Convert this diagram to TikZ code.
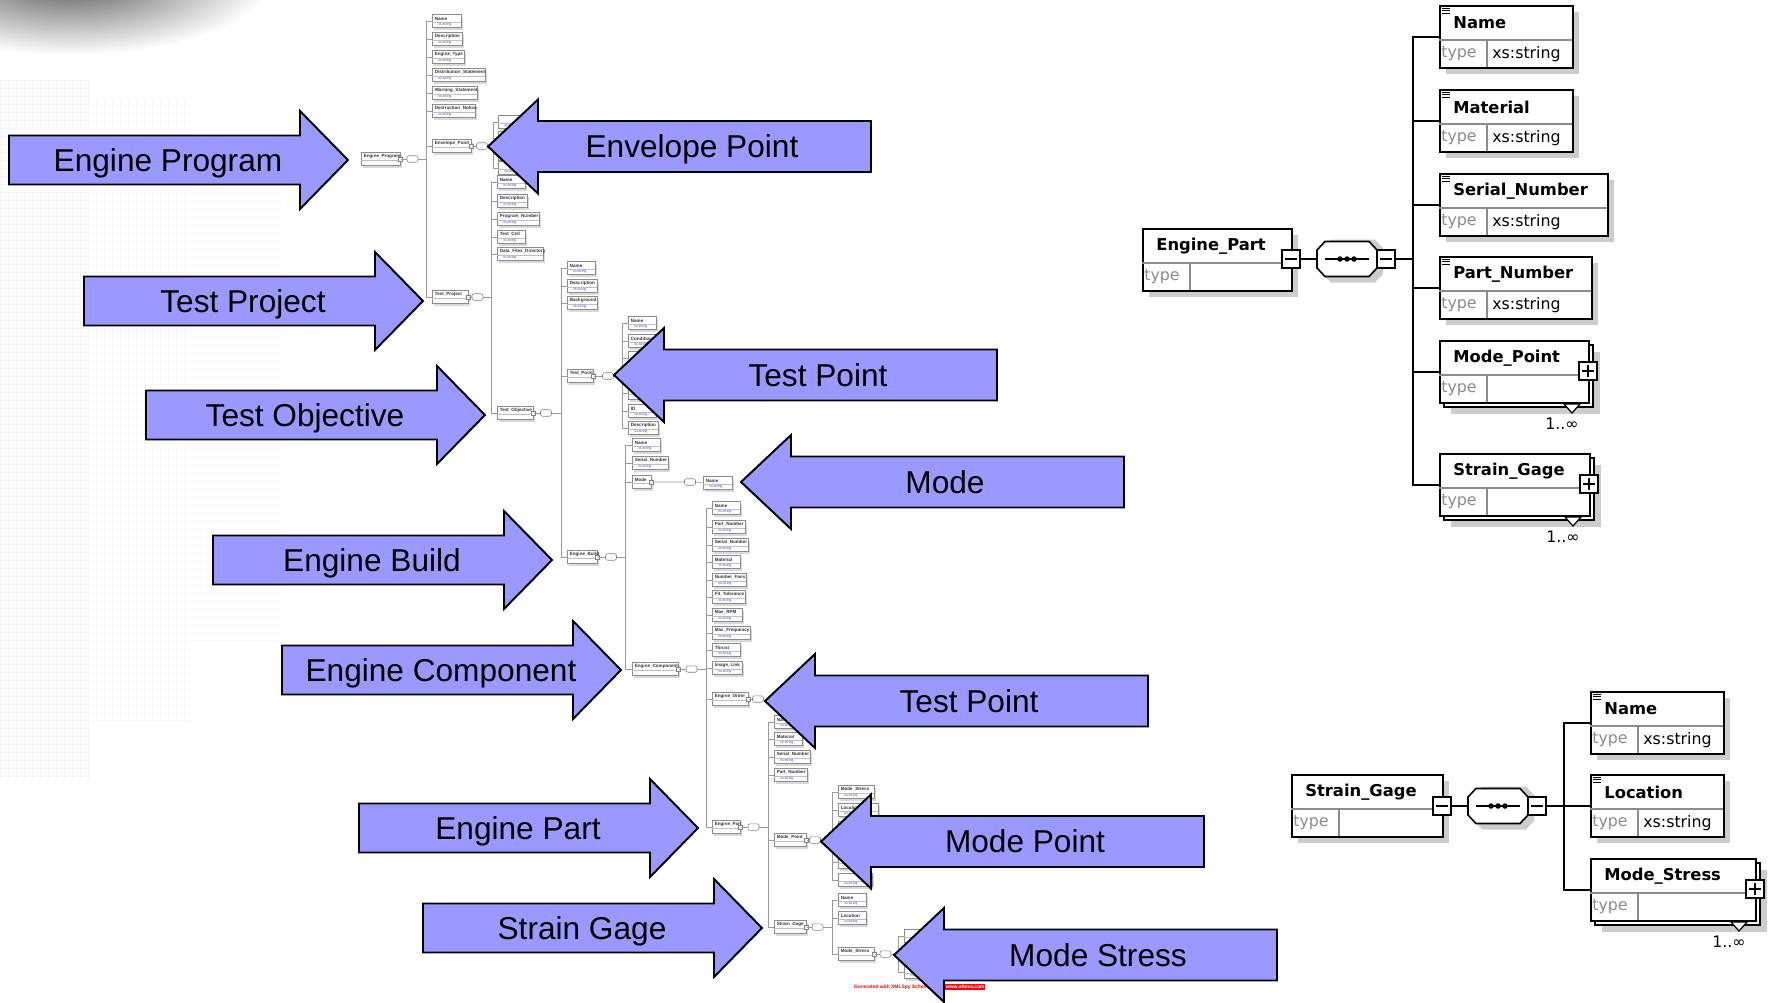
\documentclass[tikz,border=0pt]{standalone}
\usepackage{fontspec}
\setmainfont{Liberation Sans}
\newfontfamily\schemafont{DejaVu Sans}
\usepackage{tikz}

\definecolor{arrowblue}{RGB}{153,153,255}
\definecolor{shadowgray}{RGB}{204,204,204}
\definecolor{linkblue}{RGB}{70,70,225}

\tikzset{
  blockarrow/.style={fill=arrowblue, draw=black, line width=1.1pt, line join=miter},
  arrowtext/.style={font=\fontsize{18}{20}\selectfont, anchor=base, inner sep=0},
  bigbox/.style={draw=black, line width=0.9pt, fill=white, minimum height=1.24cm, inner sep=0, anchor=north west},
  rowline/.style={black!45, line width=0.6pt},
  btitle/.style={font=\schemafont\bfseries\fontsize{9.3}{11}\selectfont, inner sep=0, anchor=west},
  typelbl/.style={font=\schemafont\fontsize{9}{11}\selectfont, text=black!45, inner sep=0, anchor=west},
  typeval/.style={font=\schemafont\fontsize{9}{11}\selectfont, inner sep=0, anchor=west},
  conn/.style={line width=0.9pt},
  pmbox/.style={draw, line width=0.8pt, fill=white, minimum size=0.36cm, inner sep=0},
  mbox/.style={draw=black!45, line width=0.3pt, fill=white, minimum height=0.26cm, inner sep=0, anchor=west},
  mlbl/.style={font=\bfseries\fontsize{2.6}{3}\selectfont, inner sep=0, anchor=west, text=black!80},
  mtype/.style={font=\fontsize{2}{2.4}\selectfont, inner sep=0, anchor=west, text=linkblue},
  mline/.style={black!40, line width=0.35pt},
  mseq/.style={draw=black!50, line width=0.3pt, fill=white, rounded corners=1.2pt, minimum width=0.22cm, minimum height=0.13cm, inner sep=0},
  gentext/.style={font=\bfseries\fontsize{2.8}{3}\selectfont, text=red, inner sep=0.5pt},
}

% block arrows: name, left x (or tip x), centre y, text
\newcommand\rarrow[4]{%
  \draw[blockarrow] (#2,#3-24.5) -- (#2+291,#3-24.5) -- (#2+291,#3-49) -- (#2+339,#3)
    -- (#2+291,#3+49) -- (#2+291,#3+24.5) -- (#2,#3+24.5) -- cycle;
  \node[arrowtext] (#1) at (#2+159,#3+11) {#4};
}
\newcommand\larrow[4]{%
  \draw[blockarrow] (#2,#3) -- (#2+50,#3-47) -- (#2+50,#3-25.5) -- (#2+383,#3-25.5)
    -- (#2+383,#3+25.5) -- (#2+50,#3+25.5) -- (#2+50,#3+47) -- cycle;
  \node[arrowtext] (#1) at (#2+204,#3+11) {#4};
}

% large schema elements: name, x, top, width, title
\newcommand\selem[5]{%
  \fill[shadowgray] (#2+7,#3+7) rectangle (#2+#4+7,#3+69);
  \node[bigbox, minimum width=#4*0.02cm] (#1) at (#2,#3) {};
  \draw[rowline] (#2,#3+35) -- (#2+#4,#3+35) (#2+48,#3+35) -- (#2+48,#3+62);
  \draw[line width=0.5pt] (#2+3,#3+3) -- (#2+11,#3+3) (#2+3,#3+5.5) -- (#2+11,#3+5.5) (#2+3,#3+8) -- (#2+11,#3+8);
  \node[btitle] (#1-t) at (#2+14,#3+18) {#5};
  \node[typelbl] (#1-k) at (#2+2,#3+49) {type};
  \node[typeval] (#1-v) at (#2+53,#3+49) {xs:string};
}
\newcommand\celem[5]{%
  \fill[shadowgray] (#2+7,#3+7) rectangle (#2+#4+7,#3+69);
  \node[bigbox, minimum width=#4*0.02cm] (#1) at (#2,#3) {};
  \draw[rowline] (#2,#3+35) -- (#2+#4,#3+35) (#2+48,#3+35) -- (#2+48,#3+62);
  \node[btitle] (#1-t) at (#2+14,#3+18) {#5};
  \node[typelbl] (#1-k) at (#2+2,#3+49) {type};
}
\newcommand\melem[5]{%
  \fill[shadowgray] (#2+12,#3+12) rectangle (#2+#4+12,#3+74);
  \draw[line width=0.9pt, fill=white] (#2+5,#3+5) rectangle (#2+#4+5,#3+67);
  \draw[line width=0.7pt, fill=white] (#2+#4-24,#3+64) -- (#2+#4-8,#3+64) -- (#2+#4-16,#3+73) -- cycle;
  \node[bigbox, minimum width=#4*0.02cm] (#1) at (#2,#3) {};
  \draw[rowline] (#2,#3+35) -- (#2+#4,#3+35) (#2+48,#3+35) -- (#2+48,#3+62);
  \node[btitle] (#1-t) at (#2+14,#3+18) {#5};
  \node[typelbl] (#1-k) at (#2+2,#3+49) {type};
  \node[pmbox] (#1-p) at (#2+#4,#3+31) {};
  \draw[line width=0.8pt] (#1-p.center) ++(-6,0) -- ++(12,0) (#1-p.center) ++(0,-6) -- ++(0,12);
  \node[typeval] (#1-m) at (#2+#4-43,#3+84) {1..∞};
}
\newcommand\minusbox[3]{%
  \node[pmbox] (#1) at (#2,#3) {};
  \draw[line width=0.8pt] (#1.center) ++(-6,0) -- ++(12,0);
}
\newcommand\bigseq[3]{%
  \fill[shadowgray] (#2-24,#3-11) -- (#2-16,#3-19.5) -- (#2+28,#3-19.5) -- (#2+36,#3-11) -- (#2+36,#3+15) -- (#2+28,#3+23.5) -- (#2-16,#3+23.5) -- (#2-24,#3+15) -- cycle;
  \node[minimum width=1.2cm, minimum height=0.7cm, inner sep=0] (#1) at (#2,#3) {};
  \draw[line width=0.9pt, fill=white] (#2-30,#3-9) -- (#2-22,#3-17.5) -- (#2+22,#3-17.5) -- (#2+30,#3-9)
    -- (#2+30,#3+9) -- (#2+22,#3+17.5) -- (#2-22,#3+17.5) -- (#2-30,#3+9) -- cycle;
  \draw[line width=0.8pt] (#2-22,#3) -- (#2+22,#3);
  \fill (#2-7,#3) circle (0.055cm) (#2,#3) circle (0.055cm) (#2+7,#3) circle (0.055cm);
}

% small schema elements: name, x, centre y, width, title
\newcommand\mleaf[5]{%
  \fill[black!15] (#2+2,#3-4.5) rectangle (#2+#4+2,#3+8.5);
  \node[mbox, minimum width=#4*0.02cm] (#1) at (#2,#3) {};
  \draw[black!25, line width=0.3pt] (#2,#3+1.5) -- (#2+#4,#3+1.5);
  \node[mlbl] (#1-t) at (#2+2.5,#3-2.5) {#5};
  \node[mtype] (#1-v) at (#2+6,#3+4) {xs:string};
}
\newcommand\mcomp[5]{%
  \fill[black!15] (#2+2,#3-4.5) rectangle (#2+#4+2,#3+8.5);
  \node[mbox, minimum width=#4*0.02cm] (#1) at (#2,#3) {};
  \draw[black!25, line width=0.3pt] (#2,#3+1.5) -- (#2+#4,#3+1.5);
  \node[mlbl] (#1-t) at (#2+2.5,#3-2.5) {#5};
  \draw[black!50, line width=0.3pt, fill=white] (#2+#4-2,#3-2) rectangle (#2+#4+2,#3+2);
}

\begin{document}
\begin{tikzpicture}[x=0.02cm, y=-0.02cm]
\useasboundingbox (0,0) rectangle (1769,1002);

% background
\begin{scope}
\clip (0,0) rectangle (1769,1002);
\shade[inner color=black!65, outer color=white] (70,-20) ellipse (200 and 75);
\draw[black!4, line width=0.4pt, step=0.16cm] (0,80) grid (90,780);
\draw[black!3, line width=0.4pt, step=0.16cm] (90,100) grid (190,720);
\draw[black!2, line width=0.4pt, step=0.16cm] (190,140) grid (280,640);
\end{scope}

% small schema overview
\mcomp{mEP}{361}{159}{39}{Engine\_Program}
\node[mseq] (sEP) at (412.5,159) {};
\coordinate (bEP) at (426,159);
\mleaf{pName}{432}{21}{29}{Name}
\mleaf{pDesc}{432}{39}{30}{Description}
\mleaf{pType}{432}{57}{32}{Engine\_Type}
\mleaf{pDist}{432}{75}{53}{Distribution\_Statement}
\mleaf{pWarn}{432}{93}{45}{Warning\_Statement}
\mleaf{pDest}{432}{111}{43}{Destruction\_Notice}
\mcomp{mEnv}{432}{146}{39}{Envelope\_Point}
\mcomp{mTP}{432}{297}{36}{Test\_Project}
\draw[mline] (mEP.east) -- (sEP.west) (sEP.east) -- (bEP);
\foreach \c in {pName,pDesc,pType,pDist,pWarn,pDest,mEnv,mTP}
  \draw[mline] (bEP) |- (\c.west);

\node[mseq] (sEnv) at (482,146) {};
\coordinate (bEnv) at (493,146);
\mleaf{vA}{498}{122}{30}{}
\mleaf{vB}{498}{138}{30}{}
\mleaf{vC}{498}{154}{30}{}
\mleaf{vD}{498}{168}{30}{}
\draw[mline] (mEnv.east) -- (sEnv.west) (sEnv.east) -- (bEnv);
\foreach \c in {vA,vB,vC,vD}
  \draw[mline] (bEnv) |- (\c.west);

\node[mseq] (sTP) at (477.5,297) {};
\coordinate (bTP) at (491,297);
\mleaf{jName}{497}{182}{28}{Name}
\mleaf{jDesc}{497}{201}{30}{Description}
\mleaf{jNum}{497}{219}{42}{Program\_Number}
\mleaf{jCell}{497}{237}{28}{Test\_Cell}
\mleaf{jData}{497}{254}{46}{Data\_Files\_Directory}
\mcomp{mTO}{497}{413}{36}{Test\_Objective}
\draw[mline] (mTP.east) -- (sTP.west) (sTP.east) -- (bTP);
\foreach \c in {jName,jDesc,jNum,jCell,jData,mTO}
  \draw[mline] (bTP) |- (\c.west);

\node[mseq] (sTO) at (546,413) {};
\coordinate (bTO) at (561,413);
\mleaf{oName}{567}{268}{28}{Name}
\mleaf{oDesc}{567}{286}{30}{Description}
\mleaf{oBack}{567}{303}{30}{Background}
\mcomp{mTPt}{567}{376}{26}{Test\_Point}
\mcomp{mEB}{567}{557}{30}{Engine\_Build}
\draw[mline] (mTO.east) -- (sTO.west) (sTO.east) -- (bTO);
\foreach \c in {oName,oDesc,oBack,mTPt,mEB}
  \draw[mline] (bTO) |- (\c.west);

\node[mseq] (sTPt) at (608,376) {};
\coordinate (bTPt) at (622,376);
\mleaf{tName}{628}{323}{28}{Name}
\mleaf{tCond}{628}{341}{30}{Condition}
\mleaf{tC}{628}{358}{28}{}
\mleaf{tD}{628}{376}{28}{}
\mleaf{tE}{628}{393}{28}{}
\mleaf{tID}{628}{411}{28}{ID}
\mleaf{tDesc}{628}{428}{30}{Description}
\draw[mline] (mTPt.east) -- (sTPt.west) (sTPt.east) -- (bTPt);
\foreach \c in {tName,tCond,tC,tD,tE,tID,tDesc}
  \draw[mline] (bTPt) |- (\c.west);

\node[mseq] (sEB) at (611,557) {};
\coordinate (bEB) at (625,557);
\mleaf{bName}{632}{445}{28}{Name}
\mleaf{bSer}{632}{463}{36}{Serial\_Number}
\mcomp{mMode}{632}{482}{19}{Mode}
\mcomp{mEC}{632}{669}{46}{Engine\_Component}
\draw[mline] (mEB.east) -- (sEB.west) (sEB.east) -- (bEB);
\foreach \c in {bName,bSer,mMode,mEC}
  \draw[mline] (bEB) |- (\c.west);
\node[mseq] (sMode) at (690,482) {};
\mleaf{dName}{703}{483}{29}{Name}
\draw[mline] (mMode.east) -- (sMode.west) (sMode.east) -- (dName.west);

\node[mseq] (sEC) at (691.5,669) {};
\coordinate (bEC) at (706,669);
\mleaf{cName}{712}{508}{28}{Name}
\mleaf{cPart}{712}{527}{33}{Part\_Number}
\mleaf{cSer}{712}{545}{36}{Serial\_Number}
\mleaf{cMat}{712}{562}{28}{Material}
\mleaf{cFans}{712}{580}{34}{Number\_Fans}
\mleaf{cTol}{712}{597}{33}{Fit\_Tolerance}
\mleaf{cRPM}{712}{615}{30}{Max\_RPM}
\mleaf{cFreq}{712}{633}{38}{Max\_Frequency}
\mleaf{cThr}{712}{650}{28}{Thrust}
\mleaf{cImg}{712}{668}{30}{Image\_Link}
\mcomp{mEO}{712}{699}{36}{Engine\_Order}
\mcomp{mEPt}{712}{827}{28}{Engine\_Part}
\draw[mline] (mEC.east) -- (sEC.west) (sEC.east) -- (bEC);
\foreach \c in {cName,cPart,cSer,cMat,cFans,cTol,cRPM,cFreq,cThr,cImg,mEO,mEPt}
  \draw[mline] (bEC) |- (\c.west);
\node[mseq] (sEO) at (758,699) {};
\draw[mline] (mEO.east) -- (sEO.west);

\node[mseq] (sEPt) at (753.5,827) {};
\coordinate (bEPt) at (768,827);
\mleaf{aName}{774}{722}{30}{Name}
\mleaf{aMat}{774}{739}{28}{Material}
\mleaf{aSer}{774}{757}{36}{Serial\_Number}
\mleaf{aPart}{774}{775}{33}{Part\_Number}
\mcomp{mMP}{774}{840}{32}{Mode\_Point}
\mcomp{mSG}{774}{927}{32}{Strain\_Gage}
\draw[mline] (mEPt.east) -- (sEPt.west) (sEPt.east) -- (bEPt);
\foreach \c in {aName,aMat,aSer,aPart,mMP,mSG}
  \draw[mline] (bEPt) |- (\c.west);

\node[mseq] (sMP) at (815,840) {};
\coordinate (bMP) at (832,840);
\mleaf{qStr}{838}{792}{36}{Mode\_Stress}
\mleaf{qLoc}{838}{810}{40}{Location}
\mleaf{qC}{838}{828}{30}{}
\mleaf{qD}{838}{845}{30}{}
\mleaf{qE}{838}{862}{30}{}
\mleaf{qF}{838}{880}{34}{}
\draw[mline] (mMP.east) -- (sMP.west) (sMP.east) -- (bMP);
\foreach \c in {qStr,qLoc,qC,qD,qE,qF}
  \draw[mline] (bMP) |- (\c.west);

\node[mseq] (sSG) at (817.5,927) {};
\coordinate (bSG) at (832,927);
\mleaf{gName}{838}{900}{28}{Name}
\mleaf{gLoc}{838}{918}{28}{Location}
\mcomp{mMS}{838}{954}{36}{Mode\_Stress}
\draw[mline] (mSG.east) -- (sSG.west) (sSG.east) -- (bSG);
\foreach \c in {gName,gLoc,mMS}
  \draw[mline] (bSG) |- (\c.west);

\node[mseq] (sMS) at (885.5,954) {};
\coordinate (bMS) at (898,954);
\mleaf{sA}{904}{936}{30}{}
\mleaf{sB}{904}{954}{30}{}
\mleaf{sC}{904}{972}{30}{}
\draw[mline] (mMS.east) -- (sMS.west) (sMS.east) -- (bMS);
\foreach \c in {sA,sB,sC}
  \draw[mline] (bMS) |- (\c.west);

\node[gentext, anchor=west] (gen) at (853,987) {Generated with XMLSpy Schema Editor};
\node[gentext, fill=red, text=white, minimum width=0.74cm, anchor=west] (genurl) at (945,987) {www.altova.com};

% Engine_Part detail
\celem{epart}{1142}{228}{149}{Engine\_Part}
\minusbox{epartm}{1291}{259}
\bigseq{seqA}{1347}{259}
\minusbox{seqAm}{1386}{259}
\coordinate (busA) at (1413,259);
\selem{aname}{1439}{5}{133}{Name}
\selem{amat}{1439}{89}{133}{Material}
\selem{aser}{1439}{173}{168}{Serial\_Number}
\selem{apart}{1439}{256}{152}{Part\_Number}
\melem{amode}{1439}{340}{149}{Mode\_Point}
\melem{agage}{1439}{453}{150}{Strain\_Gage}
\draw[conn] (epartm.east) -- (seqA.west) (seqAm.east) -- (busA);
\foreach \c in {aname,amat,aser,apart,amode,agage}
  \draw[conn] (busA) |- (\c.west);

% Strain_Gage detail
\celem{sgage}{1291}{774}{151}{Strain\_Gage}
\minusbox{sgagem}{1442}{806}
\bigseq{seqB}{1498}{806}
\minusbox{seqBm}{1537}{806}
\coordinate (busB) at (1564,806);
\selem{bname}{1590}{691}{133}{Name}
\selem{bloc}{1590}{774}{133}{Location}
\melem{bstress}{1590}{858}{165}{Mode\_Stress}
\draw[conn] (sgagem.east) -- (seqB.west) (seqBm.east) -- (busB);
\foreach \c in {bname,bloc,bstress}
  \draw[conn] (busB) |- (\c.west);

% pointer arrows
\rarrow{lEP}{9}{160}{Engine Program}
\rarrow{lTP}{84}{301}{Test Project}
\rarrow{lTO}{146}{415}{Test Objective}
\rarrow{lEB}{213}{560}{Engine Build}
\rarrow{lEC}{282}{670}{Engine Component}
\rarrow{lEPt}{359}{828}{Engine Part}
\rarrow{lSG}{423}{928}{Strain Gage}
\larrow{lEnv}{488}{146.5}{Envelope Point}
\larrow{lTPt}{614}{375}{Test Point}
\larrow{lMode}{741}{482}{Mode}
\larrow{lTPt2}{765}{701}{Test Point}
\larrow{lMP}{821}{841.5}{Mode Point}
\larrow{lMS}{894}{955}{Mode Stress}
\end{tikzpicture}
\end{document}
